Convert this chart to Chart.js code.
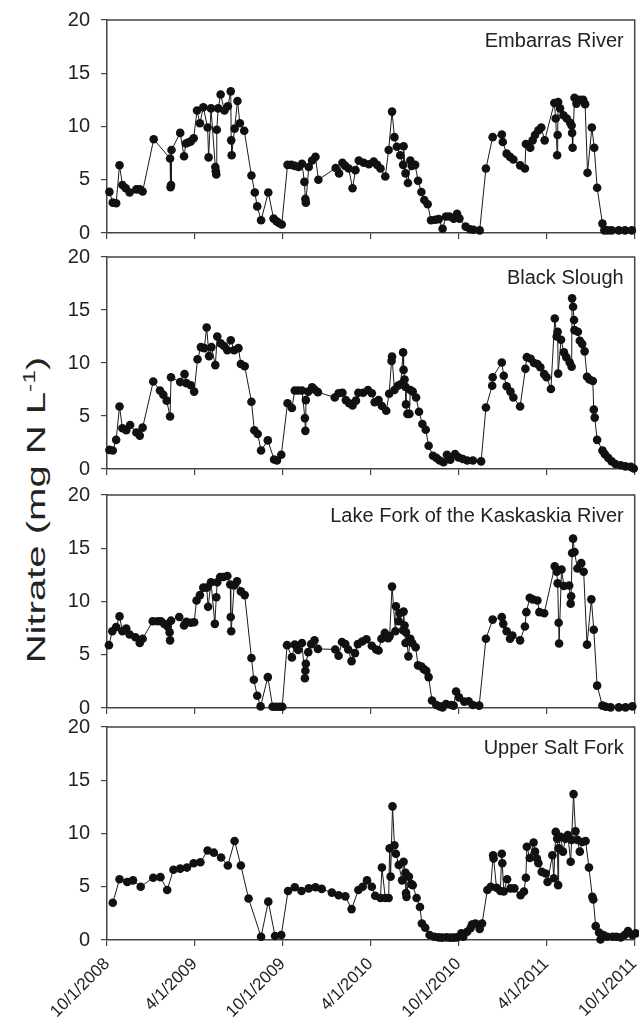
<!DOCTYPE html>
<html lang="en">
<head>
    <meta charset="UTF-8">
    <title>Nitrate concentrations, four Illinois streams</title>
    <script src="https://cdn.jsdelivr.net/npm/chart.js"></script>
    <style>
        body {
            margin: 0;
            background: #fff;
            font-family: Arial, "Liberation Sans", sans-serif;
        }
        #page {
            position: relative;
            width: 639px;
            height: 1019px;
            overflow: hidden;
        }
        .panel {
            position: absolute;
            left: 0;
            width: 639px;
        }
        #ytitle {
            position: absolute;
            left: 36px;
            top: 510px;
            transform: translate(-50%, -50%) rotate(-90deg) scaleX(1.54);
            font-size: 26px;
            color: #222;
            white-space: nowrap;
        }
        #ytitle sup {
            font-size: 16px;
        }
    </style>
</head>
<body>
<div id="page">
    <div id="ytitle">Nitrate (mg N L<sup>-1</sup>)</div>
</div>

<script>
    // x values are days since 10/1/2008
    const tickDays = [0, 182, 365, 547, 730, 912, 1095];
    const tickLabels = ['10/1/2008', '4/1/2009', '10/1/2009', '4/1/2010', '10/1/2010', '4/1/2011', '10/1/2011'];
    const yTicks = [0, 5, 10, 15, 20];

    const siteNames = ['Embarras River', 'Black Slough', 'Lake Fork of the Kaskaskia River', 'Upper Salt Fork'];

    const embarrasDay = [5, 12, 19, 26, 32, 39, 47, 61, 68, 74, 97, 131, 132, 133, 134, 152, 160, 164, 169, 174, 180,
        187, 193, 200, 209, 211, 216, 225, 226, 227, 228, 231, 236, 244, 251, 257, 258, 259, 265, 271, 276, 285,
        300, 307, 312, 320, 335, 346, 352, 357, 363, 375, 383, 390, 398, 405, 410, 412, 413, 419, 426, 433, 439,
        475, 482, 489, 495, 502, 510, 516, 523, 533, 544, 554, 561, 568, 578, 585, 592, 597, 602, 609, 615, 616,
        620, 625, 630, 633, 640, 646, 653, 659, 666, 673, 682, 689, 697, 704, 711, 720, 727, 732, 745, 754, 761,
        774, 787, 801, 820, 822, 830, 837, 844, 858, 868, 870, 879, 884, 889, 896, 902, 909, 929, 932, 935, 936,
        937, 941, 948, 955, 962, 965, 966, 967, 971, 975, 982, 989, 993, 998, 1007, 1012, 1018, 1029, 1033, 1040,
        1048, 1063, 1076, 1090];
    const embarrasNitrate = [3.86, 2.85, 2.8, 6.36, 4.5, 4.2, 3.8, 4.1, 4.1, 3.9, 8.8, 7.0, 4.3, 4.5, 7.8, 9.4, 7.2, 8.4, 8.5, 8.6, 8.9,
        11.5, 10.3, 11.8, 9.9, 7.1, 11.7, 6.2, 5.8, 5.5, 9.7, 11.7, 13.0, 11.5, 11.9, 13.3, 8.7, 7.3, 9.8, 12.4, 10.3, 9.6,
        5.4, 3.8, 2.5, 1.2, 3.8, 1.35, 1.1, 0.94, 0.8, 6.4, 6.4, 6.3, 6.2, 6.5, 4.8, 3.2, 2.85, 6.2, 6.8, 7.15, 5.0,
        6.1, 5.6, 6.6, 6.3, 6.05, 4.2, 5.9, 6.8, 6.6, 6.45, 6.7, 6.4, 6.05, 5.3, 7.8, 11.4, 9.0, 8.1, 7.3, 6.4, 8.15,
        5.6, 4.7, 6.8, 6.3, 6.4, 4.9, 3.85, 3.1, 2.7, 1.2, 1.25, 1.3, 0.4, 1.55, 1.55, 1.35, 1.8, 1.35, 0.6, 0.35, 0.3,
        0.25, 6.05, 9.0, 9.25, 8.55, 7.45, 7.15, 6.9, 6.35, 6.05, 8.35, 8.0, 8.7, 9.2, 9.65, 9.9, 8.7, 12.2, 10.75, 7.3, 9.2,
        12.3, 11.7, 11.05, 10.75, 10.35, 10.1, 9.4, 8.0, 12.7, 12.15, 12.5, 12.5, 12.1, 5.65, 9.9, 8.0, 4.25, 0.88, 0.25, 0.25,
        0.25, 0.25, 0.25, 0.25];

    const blackDay = [5, 12, 19, 26, 32, 40, 48, 61, 68, 74, 96, 110, 117, 124, 131, 133, 152, 161, 165, 174, 181,
        188, 195, 202, 207, 212, 217, 225, 229, 236, 243, 250, 257, 264, 273, 278, 286, 300, 306, 313, 320, 334,
        347, 353, 362, 375, 384, 390, 397, 405, 411, 412, 413, 418, 426, 431, 438, 473, 481, 489, 496, 503, 510,
        517, 522, 532, 542, 550, 556, 564, 571, 580, 586, 591, 592, 597, 604, 610, 615, 616, 618, 620, 621, 624,
        628, 630, 635, 642, 648, 655, 662, 668, 677, 684, 691, 699, 706, 713, 723, 730, 739, 748, 760, 777, 787,
        800, 801, 820, 824, 830, 838, 844, 858, 869, 872, 880, 887, 894, 900, 908, 913, 922, 930, 934, 936, 937,
        943, 949, 954, 961, 965, 966, 968, 970, 971, 978, 982, 987, 992, 997, 1002, 1009, 1011, 1013, 1018, 1029,
        1034, 1041, 1048, 1056, 1067, 1077, 1088, 1094];
    const blackNitrate = [1.8, 1.75, 2.75, 5.9, 3.85, 3.65, 4.15, 3.45, 3.15, 3.9, 8.25, 7.4, 7.0, 6.45, 4.95, 8.65, 8.2, 8.95, 8.1, 7.9, 7.3,
        10.35, 11.5, 11.4, 13.35, 10.65, 11.5, 9.8, 12.5, 11.85, 11.6, 11.2, 12.15, 11.2, 11.4, 9.9, 9.7, 6.35, 3.65, 3.3, 1.75, 2.7,
        0.9, 0.8, 1.35, 6.2, 5.75, 7.4, 7.4, 7.4, 4.8, 3.6, 6.5, 7.3, 7.7, 7.5, 7.25, 6.75, 7.15, 7.2, 6.5, 6.2, 6.0,
        6.45, 7.2, 7.2, 7.45, 7.15, 6.3, 6.5, 5.95, 5.5, 7.1, 10.2, 10.6, 7.45, 7.85, 8.0, 11.0, 9.35, 8.45, 7.75, 6.1, 5.2,
        5.2, 7.45, 7.3, 6.75, 5.4, 4.25, 3.7, 2.2, 1.25, 1.05, 0.8, 0.63, 1.35, 0.88, 1.4, 1.1, 0.94, 0.8, 0.8, 0.72, 5.8,
        7.85, 8.65, 10.05, 8.8, 7.8, 7.3, 6.75, 5.9, 9.45, 10.55, 10.4, 10.0, 9.9, 9.6, 8.95, 8.65, 7.55, 14.2, 12.5, 12.95, 9.0,
        12.2, 11.0, 10.55, 10.05, 9.65, 16.1, 15.3, 14.05, 13.1, 12.95, 12.1, 11.8, 11.1, 8.7, 8.45, 8.3, 5.6, 4.85, 2.75, 1.75,
        1.4, 1.05, 0.72, 0.47, 0.35, 0.25, 0.2, 0.05];

    const lakeForkDay = [4, 11, 19, 26, 32, 40, 47, 59, 68, 74, 95, 105, 112, 119, 126, 130, 131, 133, 150, 160, 165,
        174, 181, 186, 193, 200, 207, 210, 216, 224, 227, 229, 235, 242, 250, 256, 257, 258, 264, 270, 278, 286,
        300, 305, 312, 319, 334, 344, 351, 358, 364, 374, 384, 390, 397, 405, 411, 412, 413, 418, 424, 431, 438,
        474, 481, 488, 495, 501, 508, 515, 521, 530, 539, 550, 559, 564, 570, 577, 584, 587, 592, 599, 600, 606,
        608, 615, 616, 618, 620, 621, 626, 630, 634, 641, 646, 653, 658, 663, 668, 675, 684, 691, 697, 704, 715,
        720, 725, 731, 742, 751, 760, 773, 787, 801, 820, 823, 830, 837, 842, 858, 868, 871, 878, 884, 894, 898,
        908, 930, 934, 936, 938, 939, 944, 949, 960, 963, 964, 966, 968, 971, 977, 985, 990, 997, 1006, 1011, 1018,
        1029, 1036, 1046, 1063, 1077, 1091];
    const lakeForkNitrate = [5.9, 7.2, 7.6, 8.6, 7.2, 7.45, 6.9, 6.65, 6.1, 6.5, 8.15, 8.15, 8.15, 7.9, 7.65, 7.1, 6.35, 8.2, 8.55, 7.75, 8.1,
        8.0, 8.05, 10.1, 10.6, 11.3, 11.3, 9.5, 11.8, 7.9, 10.4, 11.8, 12.3, 12.3, 12.4, 11.6, 8.55, 7.2, 11.5, 11.9, 10.95, 10.6,
        4.7, 2.65, 1.15, 0.15, 2.9, 0.12, 0.12, 0.12, 0.12, 5.9, 4.75, 5.95, 5.45, 6.1, 2.8, 3.5, 4.15, 5.25, 6.0, 6.35, 5.55,
        5.5, 4.9, 6.2, 6.0, 5.5, 4.4, 5.15, 6.0, 6.25, 6.45, 5.85, 5.5, 5.4, 6.5, 7.05, 6.55, 6.75, 11.4, 7.2, 9.55, 8.15,
        8.9, 7.3, 9.05, 7.75, 6.1, 7.1, 4.85, 6.5, 6.1, 5.7, 4.0, 3.9, 3.65, 3.5, 2.9, 0.7, 0.28, 0.15, 0.06, 0.38, 0.28,
        0.22, 1.55, 1.0, 0.6, 0.63, 0.28, 0.22, 6.5, 8.3, 8.55, 7.9, 7.2, 6.5, 6.8, 6.35, 7.65, 9.0, 10.35, 10.2, 10.1, 9.0,
        8.9, 13.3, 12.8, 11.7, 8.0, 6.05, 13.0, 11.45, 11.5, 9.8, 10.5, 14.55, 15.9, 14.65, 13.1, 13.6, 12.8, 5.95, 10.2, 7.35, 2.1,
        0.22, 0.12, 0.06, 0.06, 0.06, 0.15];

    const saltForkDay = [12, 26, 42, 54, 70, 96, 111, 125, 138, 152, 166, 180, 194, 209, 222, 237, 251, 265, 278, 294,
        320, 335, 349, 362, 376, 390, 404, 419, 433, 446, 467, 481, 495, 508, 522, 531, 540, 550, 557, 568, 571,
        578, 585, 587, 589, 593, 597, 600, 606, 613, 616, 620, 621, 622, 627, 632, 635, 643, 650, 654, 661, 670,
        680, 689, 696, 705, 713, 720, 727, 736, 740, 748, 755, 758, 765, 774, 779, 790, 797, 802, 803, 809, 817,
        820, 821, 824, 831, 838, 846, 859, 866, 870, 872, 878, 886, 889, 893, 896, 903, 911, 915, 925, 928, 932,
        935, 937, 938, 942, 947, 952, 957, 963, 965, 969, 973, 977, 982, 987, 994, 1001, 1008, 1010, 1015, 1022,
        1025, 1031, 1039, 1050, 1058, 1067, 1075, 1082, 1091, 1098];
    const saltForkNitrate = [3.5, 5.7, 5.45, 5.6, 5.0, 5.85, 5.9, 4.7, 6.6, 6.7, 6.8, 7.2, 7.3, 8.4, 8.2, 7.75, 7.0, 9.3, 7.0, 3.9,
        0.3, 3.6, 0.38, 0.47, 4.6, 4.95, 4.6, 4.85, 4.95, 4.8, 4.45, 4.2, 4.1, 2.9, 4.7, 5.0, 5.6, 5.0, 4.15, 3.95, 6.8,
        3.95, 3.95, 8.6, 5.95, 12.55, 8.9, 8.1, 7.05, 5.6, 7.35, 6.3, 4.4, 4.05, 5.95, 5.25, 5.15, 3.95, 3.1, 1.55, 1.15, 0.47,
        0.3, 0.25, 0.22, 0.25, 0.22, 0.22, 0.25, 0.62, 0.3, 0.78, 1.1, 1.45, 1.55, 1.03, 1.55, 4.7, 5.0, 7.95, 7.65, 4.9, 4.6,
        8.1, 7.2, 4.55, 5.7, 4.85, 4.85, 4.2, 4.55, 5.85, 8.75, 7.7, 9.15, 8.3, 7.65, 7.2, 6.4, 6.25, 5.45, 7.95, 5.8, 10.15,
        9.5, 5.15, 8.6, 9.7, 8.3, 9.5, 9.85, 7.35, 9.4, 13.7, 10.2, 9.4, 8.3, 9.2, 9.3, 6.8, 4.05, 3.8, 1.3, 0.7,
        0.05, 0.47, 0.3, 0.3, 0.3, 0.25, 0.47, 0.85, 0.47, 0.62];

    const siteDays = [embarrasDay, blackDay, lakeForkDay, saltForkDay];
    const siteNitrate = [embarrasNitrate, blackNitrate, lakeForkNitrate, saltForkNitrate];

    // plot area of each panel on the page (top, bottom in px)
    const panelBox = [[20, 233], [257, 469], [495, 708], [727, 940]];
    const PAGE_H = 1019;
    const PAD_TOP = 14;
    const AXIS_COLOR = '#444';
    const FONT = 'Arial, "Liberation Sans", sans-serif';

    Chart.defaults.font.family = FONT;
    Chart.defaults.color = '#222';

    const framePlugin = {
        id: 'frame',
        beforeDatasetsDraw(chart) {
            const { ctx, chartArea: a } = chart;
            ctx.save();
            ctx.strokeStyle = AXIS_COLOR;
            ctx.lineWidth = 1.5;
            ctx.beginPath();
            ctx.moveTo(a.left, a.top);
            ctx.lineTo(a.right, a.top);
            ctx.lineTo(a.right, a.bottom);
            ctx.stroke();
            ctx.restore();
        }
    };

    const panelLabel = {
        id: 'panelLabel',
        afterDraw(chart, args, opts) {
            const { ctx, chartArea: a } = chart;
            ctx.save();
            ctx.font = '20px ' + FONT;
            ctx.fillStyle = '#222';
            ctx.textAlign = 'right';
            ctx.textBaseline = 'alphabetic';
            ctx.fillText(opts.text, a.right - 11, a.top + 27);
            ctx.restore();
        }
    };

    const page = document.getElementById('page');

    siteNames.forEach((name, i) => {
        const [top, bottom] = panelBox[i];
        const last = i === siteNames.length - 1;
        const axisH = last ? PAGE_H - bottom : 8;

        const wrap = document.createElement('div');
        wrap.className = 'panel';
        wrap.style.top = (top - PAD_TOP) + 'px';
        wrap.style.height = (PAD_TOP + bottom - top + axisH) + 'px';
        const canvas = document.createElement('canvas');
        wrap.appendChild(canvas);
        page.appendChild(wrap);

        const points = siteDays[i].map((d, k) => ({ x: d, y: siteNitrate[i][k] }));

        new Chart(canvas, {
            type: 'scatter',
            data: {
                datasets: [{
                    label: name,
                    data: points,
                    showLine: true,
                    borderColor: '#1a1a1a',
                    borderWidth: 1,
                    pointRadius: 4.3,
                    pointHoverRadius: 4.3,
                    pointBackgroundColor: '#111',
                    pointBorderColor: '#111',
                    pointBorderWidth: 0,
                    clip: 8
                }]
            },
            options: {
                responsive: true,
                maintainAspectRatio: false,
                animation: false,
                events: [],
                layout: { padding: { top: PAD_TOP, left: 0, right: 1, bottom: 0 } },
                plugins: {
                    legend: { display: false },
                    tooltip: { enabled: false },
                    panelLabel: { text: name }
                },
                scales: {
                    x: {
                        type: 'linear',
                        min: 0,
                        max: 1096,
                        afterBuildTicks: s => { s.ticks = tickDays.map(v => ({ value: v })); },
                        afterFit: s => { s.height = axisH; s.paddingLeft = 0; s.paddingRight = 0; },
                        ticks: {
                            display: last,
                            autoSkip: false,
                            minRotation: 45,
                            maxRotation: 45,
                            padding: 8,
                            font: { size: 17 },
                            color: '#222',
                            callback: (v, k) => tickLabels[k]
                        },
                        grid: { drawOnChartArea: false, tickLength: 6, color: AXIS_COLOR, lineWidth: 1.2 },
                        border: { color: AXIS_COLOR, width: 1.5 }
                    },
                    y: {
                        min: 0,
                        max: 20,
                        afterBuildTicks: s => { s.ticks = yTicks.map(v => ({ value: v })); },
                        afterFit: s => { s.width = 107; s.paddingTop = 0; s.paddingBottom = 0; },
                        ticks: { padding: 11, font: { size: 20 }, color: '#222' },
                        grid: { drawOnChartArea: false, tickLength: 6, color: AXIS_COLOR, lineWidth: 1.2 },
                        border: { color: AXIS_COLOR, width: 1.5 }
                    }
                }
            },
            plugins: [framePlugin, panelLabel]
        });
    });
</script>
</body>
</html>
